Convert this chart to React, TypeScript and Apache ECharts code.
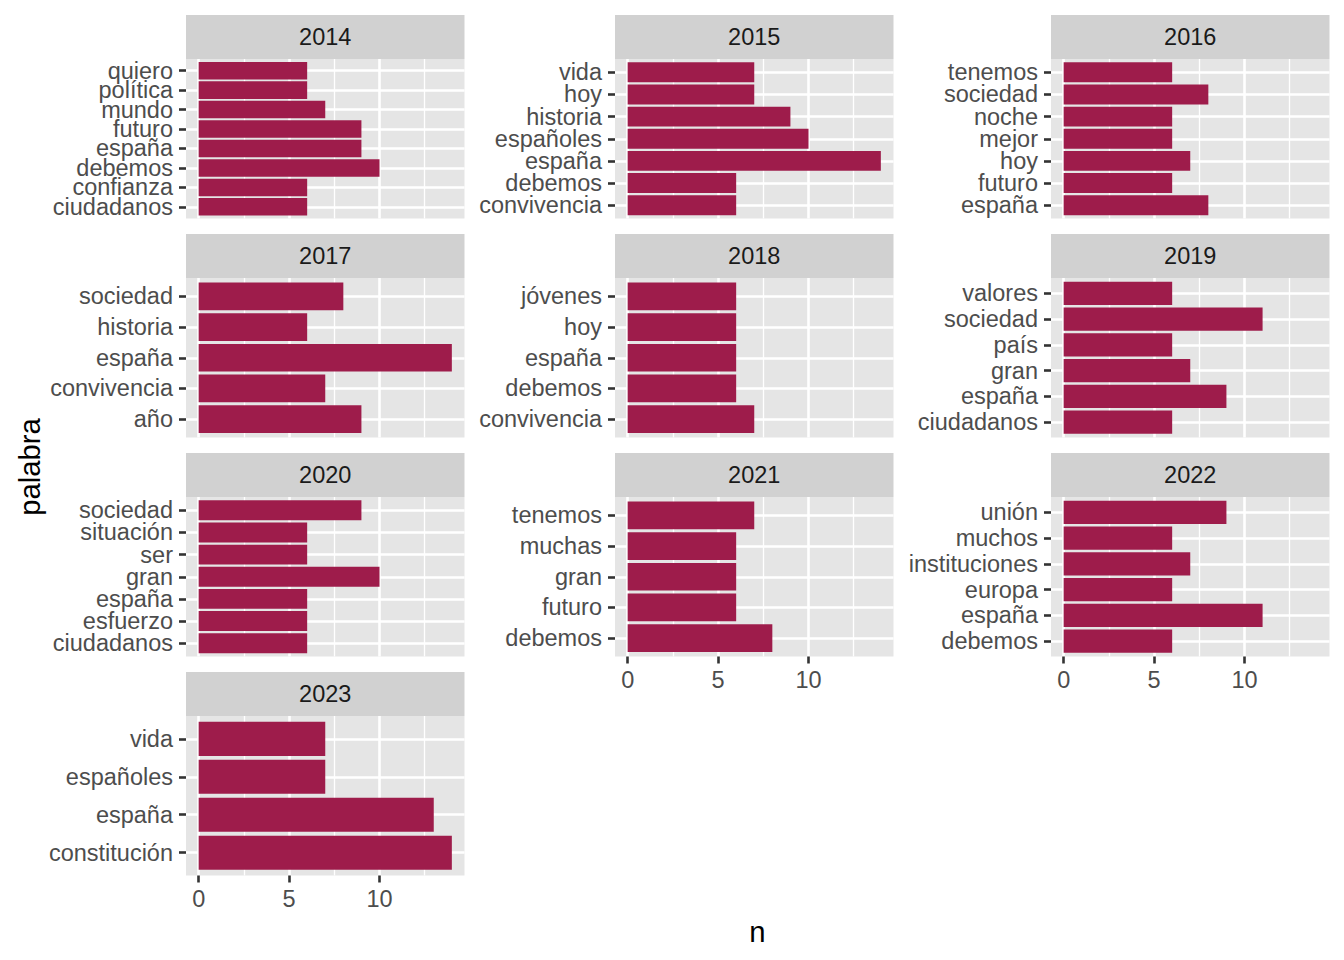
import React, { useEffect, useRef } from "react";
import * as echarts from "echarts";

// ---- data (each list from bottom to top of its panel) ----
const palabras2014 = ["ciudadanos", "confianza", "debemos", "españa", "futuro", "mundo", "política", "quiero"];
const n2014 = [6, 6, 10, 9, 9, 7, 6, 6];
const palabras2015 = ["convivencia", "debemos", "españa", "españoles", "historia", "hoy", "vida"];
const n2015 = [6, 6, 14, 10, 9, 7, 7];
const palabras2016 = ["españa", "futuro", "hoy", "mejor", "noche", "sociedad", "tenemos"];
const n2016 = [8, 6, 7, 6, 6, 8, 6];
const palabras2017 = ["año", "convivencia", "españa", "historia", "sociedad"];
const n2017 = [9, 7, 14, 6, 8];
const palabras2018 = ["convivencia", "debemos", "españa", "hoy", "jóvenes"];
const n2018 = [7, 6, 6, 6, 6];
const palabras2019 = ["ciudadanos", "españa", "gran", "país", "sociedad", "valores"];
const n2019 = [6, 9, 7, 6, 11, 6];
const palabras2020 = ["ciudadanos", "esfuerzo", "españa", "gran", "ser", "situación", "sociedad"];
const n2020 = [6, 6, 6, 10, 6, 6, 9];
const palabras2021 = ["debemos", "futuro", "gran", "muchas", "tenemos"];
const n2021 = [8, 6, 6, 6, 7];
const palabras2022 = ["debemos", "españa", "europa", "instituciones", "muchos", "unión"];
const n2022 = [6, 11, 6, 7, 6, 9];
const palabras2023 = ["constitución", "españa", "españoles", "vida"];
const n2023 = [14, 13, 7, 7];

const years = ["2014", "2015", "2016", "2017", "2018", "2019", "2020", "2021", "2022", "2023"];
const palabrasList = [palabras2014, palabras2015, palabras2016, palabras2017, palabras2018, palabras2019, palabras2020, palabras2021, palabras2022, palabras2023];
const nList = [n2014, n2015, n2016, n2017, n2018, n2019, n2020, n2021, n2022, n2023];

const xTicks = [0, 5, 10];
const xMinorTicks = [2.5, 7.5, 12.5];
const xMin = -0.7;
const xMax = 14.7;
const yearsWithXAxis = ["2021", "2022", "2023"];
const xTitle = "n";
const yTitle = "palabra";

// ---- styling / layout ----
const FONT = "'Liberation Sans', Arial, Helvetica, sans-serif";
const BAR = "#9E1C4B";
const PANEL_BG = "#E5E5E5";
const STRIP_BG = "#D1D1D1";
const TICK = "#333333";
const LABEL = "#4D4D4D";
const COL_LEFT = [186, 615, 1051];
const ROW_TOP = [59, 278, 497, 716];
const PANEL_W = 278.5;
const PANEL_H = 159.5;
const STRIP_H = 44;
const FS = 23.5;

export default function App() {
  const ref = useRef<HTMLDivElement>(null);

  useEffect(() => {
    document.body.style.margin = "0";
    if (!ref.current) return;
    const chart = echarts.init(ref.current, null, { renderer: "svg" });

    const grids: any[] = [];
    const xAxes: any[] = [];
    const yAxes: any[] = [];
    const series: any[] = [];
    const graphics: any[] = [];

    years.forEach((year, i) => {
      const col = i % 3;
      const row = Math.floor(i / 3);
      const left = COL_LEFT[col];
      const top = ROW_TOP[row];
      const words = palabrasList[i];
      const vals = nList[i];
      const showX = yearsWithXAxis.includes(year);
      // split label positions over two stacked left axes so ECharts never drops crowded labels
      const evenIdx = words.map((_, k) => k).filter((k) => k % 2 === 0);
      const oddIdx = words.map((_, k) => k).filter((k) => k % 2 === 1);

      grids.push({
        left, top, width: PANEL_W, height: PANEL_H,
        show: true, backgroundColor: PANEL_BG, borderWidth: 0, containLabel: false,
      });
      xAxes.push({
        type: "value", gridIndex: i, min: xMin, max: xMax, position: "bottom",
        axisLine: { show: false, onZero: false },
        axisTick: { show: showX, customValues: xTicks, length: 7, lineStyle: { color: TICK, width: 2.6 } },
        axisLabel: {
          show: showX, customValues: xTicks, margin: 11, fontSize: FS, color: LABEL, fontFamily: FONT,
          showMinLabel: true, showMaxLabel: true, hideOverlap: false,
        },
        splitLine: { show: true, lineStyle: { color: "#FFFFFF", width: 2.6 } },
        z: 1,
      });
      xAxes.push({
        type: "value", gridIndex: i, min: xMin, max: xMax, position: "top",
        axisLine: { show: false, onZero: false },
        axisTick: { show: false, customValues: xMinorTicks },
        axisLabel: { show: false, customValues: xMinorTicks },
        splitLine: { show: true, lineStyle: { color: "#FFFFFF", width: 1.3 } },
        z: 0,
      });
      [evenIdx, oddIdx].forEach((vals2) => {
        yAxes.push({
          type: "value", gridIndex: i, min: -0.6, max: words.length - 0.4, position: "left", offset: 0,
          axisLine: { show: false, onZero: false },
          axisTick: { show: true, customValues: vals2, length: 7, lineStyle: { color: TICK, width: 2.6 } },
          axisLabel: {
            customValues: vals2, margin: 13, fontSize: FS, color: LABEL, fontFamily: FONT,
            showMinLabel: true, showMaxLabel: true, hideOverlap: false,
            formatter: (v: number) => words[Math.round(v)],
          },
          splitLine: { show: true, lineStyle: { color: "#FFFFFF", width: 2.6 } },
          z: 1,
        });
      });
      series.push({
        type: "custom",
        coordinateSystem: "cartesian2d",
        xAxisIndex: 2 * i,
        yAxisIndex: 2 * i,
        z: 5,
        data: vals.map((v, k) => [v, k]),
        encode: { x: 0, y: 1 },
        renderItem: (_p: any, api: any) => {
          const v = api.value(0);
          const k = api.value(1);
          const p0 = api.coord([0, k + 0.45]);
          const p1 = api.coord([v, k - 0.45]);
          return {
            type: "rect",
            shape: { x: p0[0], y: p0[1], width: p1[0] - p0[0], height: p1[1] - p0[1] },
            style: { fill: BAR },
          };
        },
      });
      graphics.push({
        type: "rect",
        shape: { x: left, y: top - STRIP_H, width: PANEL_W, height: STRIP_H },
        style: { fill: STRIP_BG },
        silent: true,
      });
      graphics.push({
        type: "text",
        x: left + PANEL_W / 2,
        y: top - STRIP_H / 2,
        style: { text: year, fontSize: FS, fontFamily: FONT, fill: "#1A1A1A", align: "center", verticalAlign: "middle" },
        silent: true,
      });
    });

    graphics.push({
      type: "text", x: 29, y: 467, rotation: Math.PI / 2,
      style: { text: yTitle, fontSize: 29.3, fontFamily: FONT, fill: "#000000", align: "center", verticalAlign: "middle" },
    });
    graphics.push({
      type: "text", x: 757.5, y: 931,
      style: { text: xTitle, fontSize: 29.3, fontFamily: FONT, fill: "#000000", align: "center", verticalAlign: "middle" },
    });

    chart.setOption({
      animation: false,
      backgroundColor: "#FFFFFF",
      grid: grids,
      xAxis: xAxes,
      yAxis: yAxes,
      series,
      graphic: graphics,
    });

    return () => chart.dispose();
  }, []);

  return <div ref={ref} style={{ width: 1344, height: 960 }} />;
}
